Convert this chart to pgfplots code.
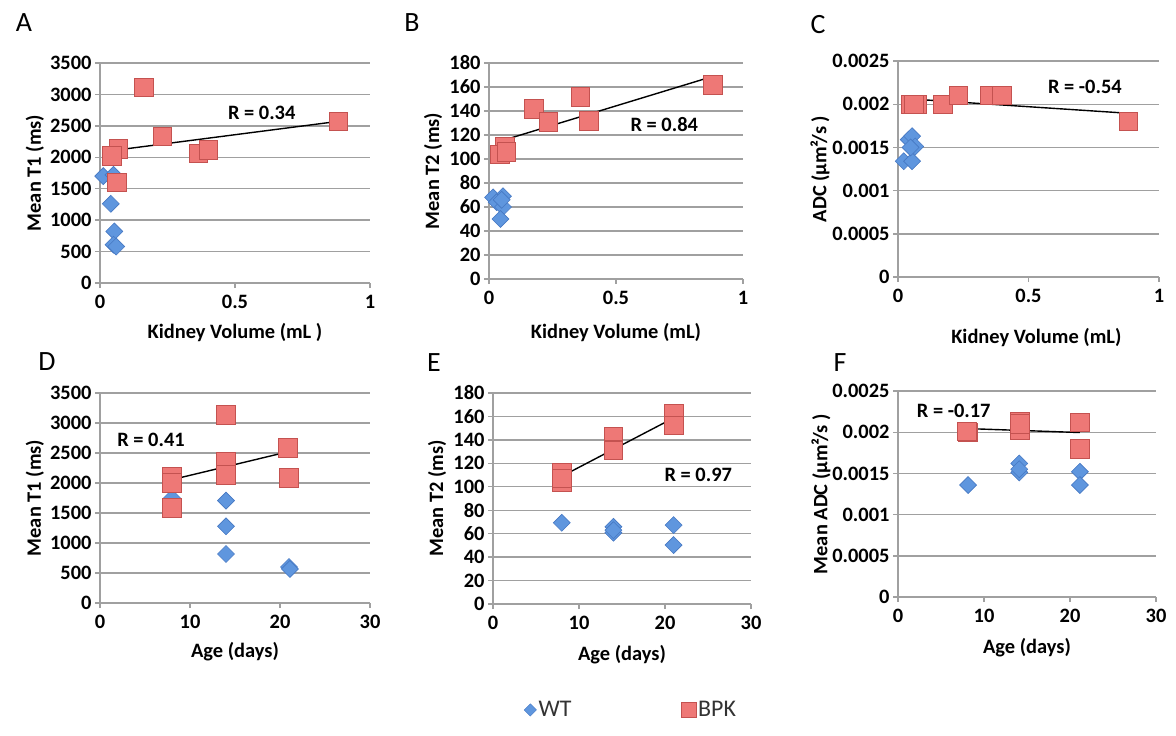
\documentclass[border=0pt]{standalone}
\usepackage{pgfplots}
\pgfplotsset{compat=1.18}
\usepackage{fontspec}
\newfontfamily\carl{Carlito}
\definecolor{gridc}{RGB}{160,160,160}
\definecolor{wtc}{RGB}{95,150,222}
\definecolor{wtedge}{RGB}{70,120,195}
\definecolor{bpkc}{RGB}{238,120,118}
\definecolor{bpkedge}{RGB}{196,82,80}
\newcommand\axfont{\carl\bfseries\fontsize{20.5}{23}\selectfont}

\pgfplotsset{
  panel/.style={
    scale only axis, anchor=south west, clip=false,
    axis lines=left,
    axis line style={-, draw=gridc, line width=1.4bp},
    ymajorgrids, grid style={draw=gridc, line width=1.4bp},
    tick style={draw=gridc, line width=1.4bp},
    tick align=outside, major tick length=5bp,
    ticklabel style={font=\axfont},
    xticklabel style={yshift=-4bp},
    label style={font=\axfont},
    /pgf/number format/assume math mode=true,
    /pgf/number format/1000 sep={},
    scaled ticks=false,
    xmin=0, ymin=0,
  },
  wt/.style={only marks, mark=square*, mark size=6bp,
    mark options={rotate=45, fill=wtc, draw=wtedge, line width=0.6bp}},
  bpk/.style={only marks, mark=square*, mark size=9.3bp,
    mark options={fill=bpkc, draw=bpkedge, line width=0.8bp}},
  trend/.style={black, line width=1.4bp, no marks},
}
\tikzset{rlab/.style={font=\axfont}}

\begin{document}
\begin{tikzpicture}
\useasboundingbox (0,0) rectangle (1176bp,-736bp);

% panel letters
\foreach \l/\x/\y in {A/24/23, B/412/23, C/818/25, D/47/362, E/434/363, F/840/363}
  \node[font=\carl\fontsize{28}{30}\selectfont] at (\x bp,-\y bp) {\l};

% A
\begin{axis}[panel, at={(100bp,-283bp)}, width=270bp, height=220bp,
  xmax=1, xtick={0,0.5,1}, ymax=3500, ytick={0,500,...,3500},
  xlabel={Kidney Volume (mL )}, ylabel={Mean T1 (ms)},
  xlabel style={at={(axis description cs:0.5,-0.227)}, anchor=center},
  ylabel style={at={(axis description cs:-0.241,0.5)}, anchor=center}]
\addplot[wt] coordinates {(0.012,1700) (0.05,1720) (0.04,1260) (0.053,820) (0.05,610) (0.06,580)};
\addplot[bpk] coordinates {(0.163,3110) (0.883,2570) (0.231,2330) (0.364,2060) (0.401,2120) (0.068,2130) (0.043,2020) (0.062,1600)};
\addplot[trend] coordinates {(0.043,2105) (0.883,2572)};
\node[rlab] at (axis cs:0.599,2704) {R = 0.34};
\end{axis}

% B
\begin{axis}[panel, at={(489bp,-279bp)}, width=254bp, height=216bp,
  xmax=1, xtick={0,0.5,1}, ymax=180, ytick={0,20,...,180},
  xlabel={Kidney Volume (mL)}, ylabel={Mean T2 (ms)},
  xlabel style={at={(axis description cs:0.5,-0.25)}, anchor=center},
  ylabel style={at={(axis description cs:-0.22,0.5)}, anchor=center}]
\addplot[wt] coordinates {(0.016,68) (0.055,69) (0.03,64) (0.055,60) (0.045,50) (0.05,66)};
\addplot[bpk] coordinates {(0.176,142) (0.234,131) (0.36,152) (0.393,132) (0.882,162) (0.062,110) (0.042,104) (0.068,106)};
\addplot[trend] coordinates {(0.042,114.7) (0.882,168.9)};
\node[rlab] at (axis cs:0.69,128.6) {R = 0.84};
\end{axis}

% C
\begin{axis}[panel, at={(898bp,-277bp)}, width=261bp, height=216bp,
  xmax=1, xtick={0,0.5,1}, ymax=0.0025,
  ytick={0,0.0005,0.001,0.0015,0.002,0.0025},
  yticklabels={0,0.0005,0.001,0.0015,0.002,0.0025},
  xlabel={Kidney Volume (mL)}, ylabel={ADC (μm²/s )},
  xlabel style={at={(axis description cs:0.53,-0.278)}, anchor=center},
  ylabel style={at={(axis description cs:-0.299,0.5)}, anchor=center}]
\addplot[wt] coordinates {(0.022,0.00134) (0.054,0.00134) (0.041,0.00159) (0.054,0.00163) (0.066,0.00151) (0.048,0.0015)};
\addplot[bpk] coordinates {(0.047,0.002) (0.073,0.002) (0.06,0.002) (0.172,0.002) (0.232,0.0021) (0.353,0.0021) (0.397,0.0021) (0.882,0.0018)};
\addplot[trend] coordinates {(0.047,0.002061) (0.882,0.001895)};
\node[rlab] at (axis cs:0.716,0.002196) {R = -0.54};
\end{axis}

% D
\begin{axis}[panel, at={(100bp,-603bp)}, width=270bp, height=210bp,
  xmax=30, xtick={0,10,20,30}, ymax=3500, ytick={0,500,...,3500},
  xlabel={Age (days)}, ylabel={Mean T1 (ms)},
  xlabel style={at={(axis description cs:0.5,-0.233)}, anchor=center},
  ylabel style={at={(axis description cs:-0.241,0.5)}, anchor=center}]
\addplot[wt] coordinates {(8,1750) (14,1706) (14,1278) (14,817) (21,600) (21.1,567)};
\addplot[bpk] coordinates {(8,2111) (8,2000) (8,1583) (14,3139) (14,2350) (14,2139) (20.9,2583) (21,2083)};
\addplot[trend] coordinates {(8,2056) (21.1,2528)};
\node[rlab] at (axis cs:5.67,2722) {R = 0.41};
\end{axis}

% E (carries the shared legend)
\begin{axis}[panel, at={(493bp,-604bp)}, width=258bp, height=211bp,
  xmax=30, xtick={0,10,20,30}, ymax=180, ytick={0,20,...,180},
  xlabel={Age (days)}, ylabel={Mean T2 (ms)},
  xlabel style={at={(axis description cs:0.5,-0.242)}, anchor=center},
  ylabel style={at={(axis description cs:-0.217,0.5)}, anchor=center},
  legend style={at={(axis description cs:0.535,-0.502)}, anchor=center,
    draw=none, fill=none, legend columns=2,
    font=\carl\fontsize{24}{26}\selectfont, text=black!80,
    /tikz/every even column/.append style={column sep=108bp}},
  legend cell align=left]
\addplot[wt, forget plot] coordinates {(8,69.3) (14,65.9) (14,60.8) (21,67.3) (21,50.3) (14,63)};
\addplot[bpk, forget plot] coordinates {(8,111.9) (8,104) (8,107) (14,143) (14,132) (14,131) (21,162) (21,152.5)};
\addplot[trend, forget plot] coordinates {(7.88,108.5) (21.07,159)};
\node[rlab] at (axis cs:23.87,109.9) {R = 0.97};
\addlegendimage{only marks, mark=square*,
  mark options={rotate=45, fill=wtc, draw=wtedge, line width=0.3bp, scale=2.2}}
\addlegendentry{WT}
\addlegendimage{only marks, mark=square*,
  mark options={fill=bpkc, draw=bpkedge, line width=0.3bp, scale=3.7}}
\addlegendentry{BPK}
\end{axis}

% F
\begin{axis}[panel, at={(898bp,-597bp)}, width=258bp, height=206bp,
  xmax=30, xtick={0,10,20,30}, ymax=0.0025,
  ytick={0,0.0005,0.001,0.0015,0.002,0.0025},
  yticklabels={0,0.0005,0.001,0.0015,0.002,0.0025},
  xlabel={Age (days)}, ylabel={Mean ADC (μm²/s )},
  xlabel style={at={(axis description cs:0.5,-0.248)}, anchor=center},
  ylabel style={at={(axis description cs:-0.298,0.5)}, anchor=center}]
\addplot[wt] coordinates {(8.15,0.001359) (14.1,0.001621) (14.1,0.001512) (21.15,0.00152) (21.15,0.001359) (14.1,0.00155)};
\addplot[bpk] coordinates {(8.07,0.002012) (8.1,0.002) (8.0,0.00201) (14.16,0.002125) (14.16,0.002024) (14.16,0.0021) (21.15,0.002117) (21.15,0.0018)};
\addplot[trend] coordinates {(8.07,0.002044) (21.15,0.001996)};
\node[rlab] at (axis cs:6.48,0.002254) {R = -0.17};
\end{axis}
\end{tikzpicture}
\end{document}
